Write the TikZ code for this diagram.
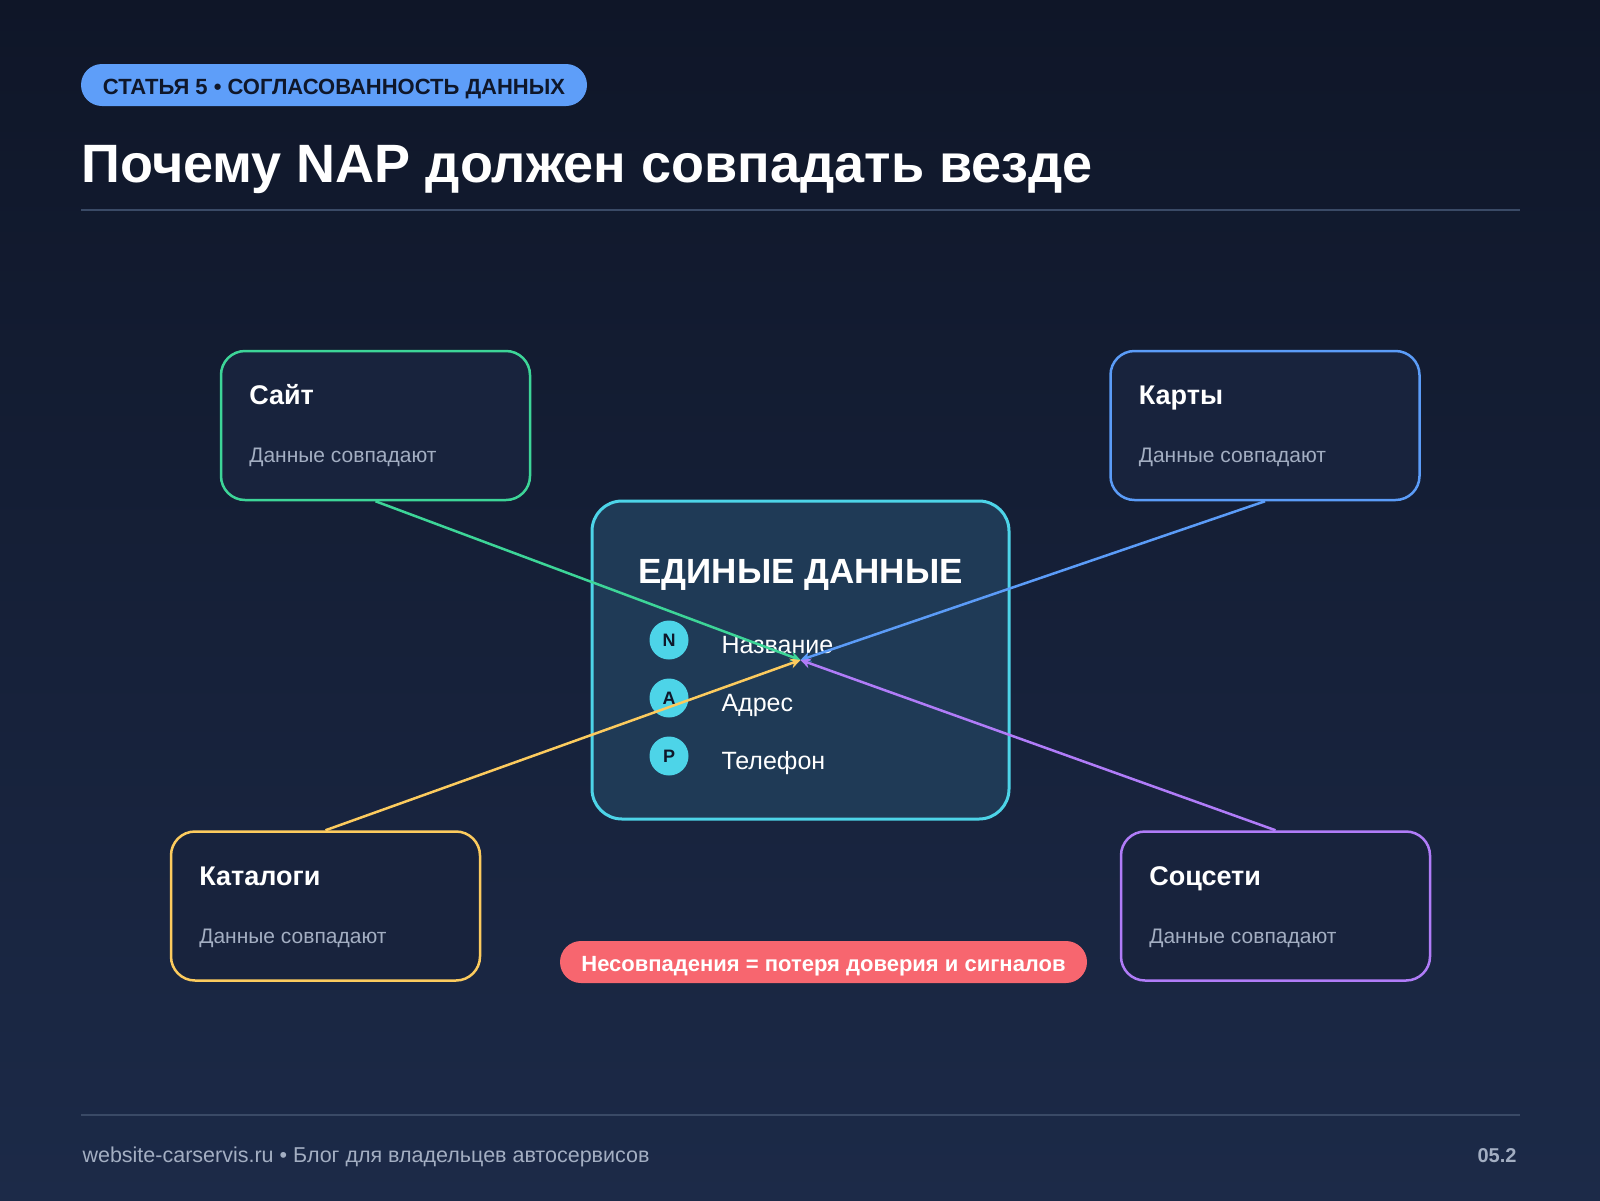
\documentclass[tikz,border=0pt]{standalone}
\usepackage{fontspec}
\setmainfont{Liberation Sans}
\usetikzlibrary{arrows.meta,calc,positioning}
\definecolor{bgTop}{HTML}{0F1628}
\definecolor{bgBottom}{HTML}{1C2A48}
\definecolor{cardFill}{HTML}{18233D}
\definecolor{hubFill}{HTML}{1F3A56}
\definecolor{siteGreen}{HTML}{3DD598}
\definecolor{mapBlue}{HTML}{5B9CF8}
\definecolor{catYellow}{HTML}{FCCB5E}
\definecolor{socViolet}{HTML}{B07CF8}
\definecolor{hubCyan}{HTML}{4DD4E8}
\definecolor{tagBlue}{HTML}{5E9EF9}
\definecolor{alertRed}{HTML}{F7666F}
\definecolor{mutedText}{HTML}{A3AEC2}
\definecolor{ruleGrey}{HTML}{3A4A66}
\definecolor{inkDark}{HTML}{0F172A}

\begin{document}
\begin{tikzpicture}[
  x=1pt, y=-1pt,
  card/.style={draw=#1, line width=2.5pt, fill=cardFill, rounded corners=24pt, minimum width=309pt, minimum height=149pt, inner sep=0pt},
  hubbox/.style={draw=hubCyan, line width=3pt, fill=hubFill, rounded corners=30pt, minimum width=417pt, minimum height=318pt, inner sep=0pt},
  cardtitle/.style={anchor=base west, text=white, font=\fontsize{27}{32}\selectfont\bfseries},
  cardnote/.style={anchor=base west, text=mutedText, font=\fontsize{21}{25}\selectfont},
  hubtitle/.style={anchor=base, text=white, font=\fontsize{35}{40}\selectfont\bfseries},
  badge/.style={circle, fill=hubCyan, minimum size=39pt, inner sep=0pt, text=inkDark, font=\fontsize{18}{20}\selectfont\bfseries},
  field/.style={anchor=base west, text=white, font=\fontsize{25}{29}\selectfont},
  pill/.style={rounded corners=21pt, minimum height=42pt, inner sep=0pt, text height=18.5pt, text depth=0pt, font=\fontsize{22}{26}\selectfont\bfseries},
  rule/.style={draw=ruleGrey, line width=1.5pt},
  link/.style={-{Stealth[length=10pt,width=10pt]}, line width=2.5pt, draw=#1}
]
\useasboundingbox (0,0) rectangle (1600,1200);
\shade[top color=bgTop, bottom color=bgBottom] (0,0) rectangle (1600,1200);

\node[pill, fill=tagBlue, text=inkDark, minimum width=506pt] (tag) at (334,85) {СТАТЬЯ 5 • СОГЛАСОВАННОСТЬ ДАННЫХ};
\node[anchor=base west, text=white, font=\fontsize{54}{60}\selectfont\bfseries] (headline) at (78,182) {Почему NAP должен совпадать везде};
\draw[rule] (81,210) -- (1520,210);

\foreach \id/\x/\y/\col/\lbl in {
  site/375.5/425.5/siteGreen/Сайт,
  maps/1265/425.5/mapBlue/Карты,
  dirs/325.5/906/catYellow/Каталоги,
  social/1275.5/906/socViolet/Соцсети
} {
  \node[card=\col] (\id) at (\x,\y) {};
  \node[cardtitle] (\id-title) at ($(\id.north west)+(26,55)$) {\lbl};
  \node[cardnote] (\id-note) at ($(\id.north west)+(26,113)$) {Данные совпадают};
}

\node[hubbox] (hub) at (800.5,660) {};
\node[hubtitle] (hub-title) at (800.5,583) {ЕДИНЫЕ ДАННЫЕ};
\foreach \id/\y/\letter/\txt in {n/640/N/Название, a/698/A/Адрес, p/756/P/Телефон} {
  \node[badge] (badge-\id) at (669,\y) {\letter};
  \node[field] (field-\id) at (718,\y+13) {\txt};
}

\draw[link=siteGreen] (site.south) -- (hub.center);
\draw[link=mapBlue] (maps.south) -- (hub.center);
\draw[link=catYellow] (dirs.north) -- (hub.center);
\draw[link=socViolet] (social.north) -- (hub.center);

\node[pill, fill=alertRed, text=white, minimum width=527pt] (alert) at (823.5,962) {Несовпадения = потеря доверия и сигналов};

\draw[rule] (81,1115) -- (1520,1115);
\node[anchor=base west, text=mutedText, font=\fontsize{21.5}{25}\selectfont] (footer) at (79,1162) {website-carservis.ru • Блог для владельцев автосервисов};
\node[anchor=base east, text=mutedText, font=\fontsize{20}{24}\selectfont\bfseries] (page) at (1520,1162) {05.2};
\end{tikzpicture}
\end{document}
